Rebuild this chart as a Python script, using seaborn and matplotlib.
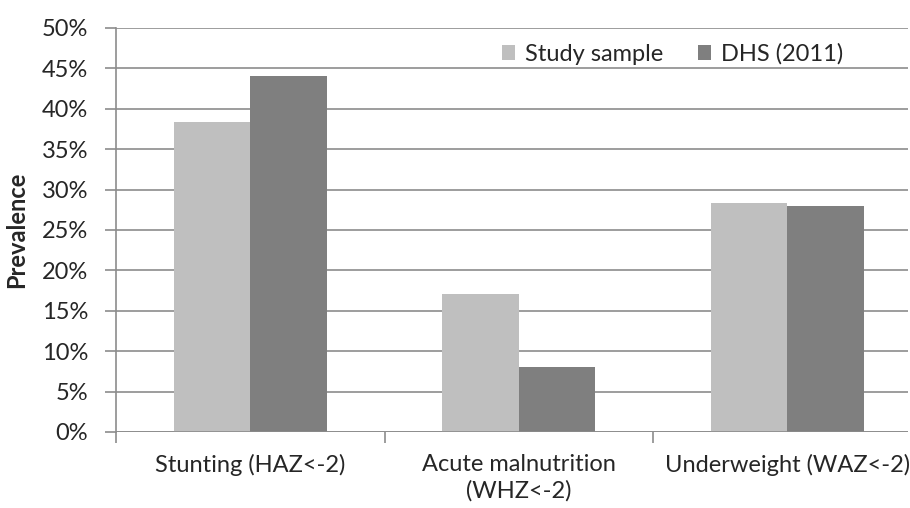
import matplotlib.pyplot as plt
import matplotlib.ticker as mticker
import pandas as pd
import seaborn as sns

CATEGORIES = ["Stunting (HAZ<-2)", "Acute malnutrition\n(WHZ<-2)", "Underweight (WAZ<-2)"]
SERIES = ["Study sample", "DHS (2011)"]
STUDY = [38.4, 17.1, 28.4]
DHS = [44.0, 8.0, 28.0]
COLORS = ["#bfbfbf", "#7f7f7f"]

sns.set_style("white")
plt.rcParams["font.family"] = ["Lato", "DejaVu Sans"]

df = pd.DataFrame({
    "category": CATEGORIES * 2,
    "series": [SERIES[0]] * 3 + [SERIES[1]] * 3,
    "value": STUDY + DHS,
})

fig = plt.figure(figsize=(9.1, 5.08), dpi=100)
ax = fig.add_axes([116 / 910, 1 - 432 / 508, (908 - 116) / 910, (432 - 28) / 508])

sns.barplot(data=df, x="category", y="value", hue="series", palette=COLORS,
            width=2 / 3.5, gap=0, saturation=1, linewidth=0, ax=ax, legend=True)

ax.set_ylim(0, 50)
ax.set_xlim(-0.5, -0.5 + (908 - 116) / 268.5)
ax.yaxis.set_major_locator(mticker.MultipleLocator(5))
ax.yaxis.set_major_formatter(mticker.FuncFormatter(lambda v, _: f"{v:.0f}%"))
ax.grid(axis="y", color="#8c8c8c", linewidth=1.2)
ax.set_axisbelow(True)

for side in ["top", "right", "bottom"]:
    ax.spines[side].set_visible(False)
ax.spines["left"].set_color("#8c8c8c")
ax.spines["left"].set_linewidth(1.2)

ax.tick_params(axis="y", length=8, width=1.2, color="#8c8c8c", labelsize=17, pad=12, left=True)
ax.tick_params(axis="x", length=0, labelsize=17, pad=16)
for lbl in ax.get_xticklabels():
    lbl.set_linespacing(1.3)
ax.set_xticks([-0.5, 0.5, 1.5], minor=True)
ax.tick_params(axis="x", which="minor", length=8, width=1.2, color="#8c8c8c", bottom=True)
ax.axhline(0, color="#8c8c8c", linewidth=1.2, zorder=3)

ax.set_xlabel("")
ax.set_ylabel("Prevalence", fontsize=17, fontweight="bold", labelpad=10)

ax.legend(loc="upper center", bbox_to_anchor=(0.703, 1.0), ncol=2, frameon=False,
          fontsize=17, handlelength=0.55, handleheight=0.55, handletextpad=0.4,
          columnspacing=1.5, borderaxespad=0.25)

fig.savefig("out.png", dpi=100)
